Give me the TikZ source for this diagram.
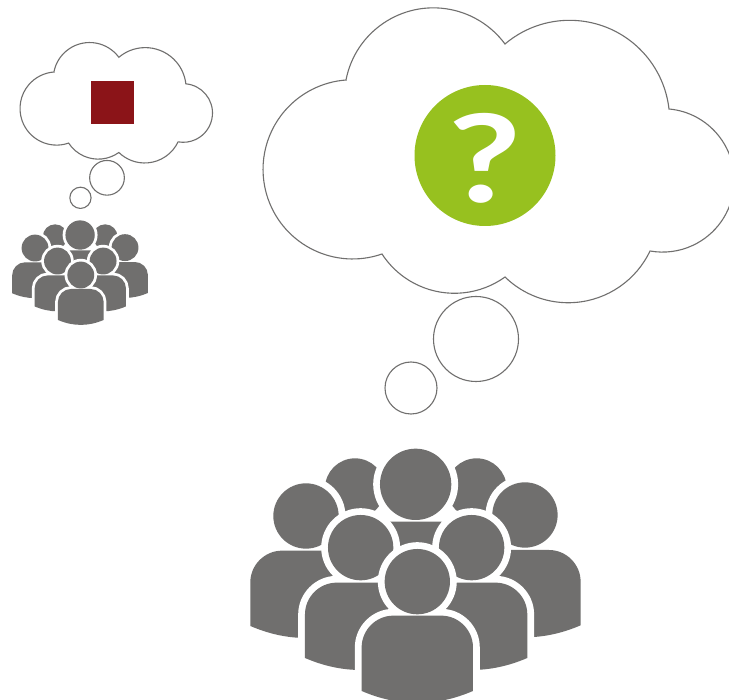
\documentclass[tikz,border=0pt]{standalone}
\usepackage{fontspec}
\newfontfamily\qfont{Lato}
\usetikzlibrary{svg.path}
\definecolor{crowdgray}{HTML}{706F6E}
\definecolor{cloudline}{HTML}{706F6E}
\definecolor{qgreen}{HTML}{97C11F}
\definecolor{sqred}{HTML}{8B1418}
\tikzset{
  cloudstroke/.style={draw=cloudline,fill=white,line width=1.1pt},
  crowdfill/.style={fill=crowdgray},
}
\newcommand{\bodypath}[2]{(#1-167,#2+226) -- (#1-167,#2+95) .. controls (#1-167,#2+43) and (#1-124,#2) .. (#1-72,#2) -- (#1+72,#2) .. controls (#1+124,#2) and (#1+167,#2+43) .. (#1+167,#2+95) -- (#1+167,#2+226) .. controls (#1+56,#2+274) and (#1-56,#2+274) .. (#1-167,#2+226) -- cycle}
\newcommand{\personfig}[5]{%
  \draw[white,line width=#5,line join=round] \bodypath{#1}{#4};
  \draw[white,line width=#5] (#1,#2) circle[radius=#3];
  \fill[crowdfill] \bodypath{#1}{#4};
  \fill[crowdfill] (#1,#2) circle[radius=#3];
}
\newcommand{\headfig}[4]{%
  \draw[white,line width=#4] (#1,#2) circle[radius=#3];
  \fill[crowdfill] (#1,#2) circle[radius=#3];
}
\newcommand{\crowdfig}[1]{%
  \headfig{345}{145}{90}{#1}
  \headfig{710}{145}{90}{#1}
  \personfig{527}{133}{107}{245}{#1}
  \personfig{198}{228}{98}{332}{#1}
  \personfig{855}{225}{98}{330}{#1}
  \personfig{362}{323}{98}{428}{#1}
  \personfig{695}{323}{98}{428}{#1}
  \personfig{532}{425}{98}{527}{#1}
}
\newcommand{\cloudfig}{%
  \draw[cloudstroke] svg "M 346 80 A 89 89 0 0 1 505 44 A 100 100 0 0 1 669 109 A 71.7 71.7 0 1 1 650 251 A 90.5 90.5 0 0 1 505 277 A 86.5 86.5 0 0 1 382 254 A 89.6 89.6 0 1 1 346 80 Z";
  \draw[cloudstroke] (476,339) circle[radius=42.5];
  \draw[cloudstroke] (411,388) circle[radius=26];
}
\begin{document}
\begin{tikzpicture}[x=1pt,y=1pt,yscale=-1]
\useasboundingbox (0,0) rectangle (729,700);
\fill[white] (0,0) rectangle (729,700);
\clip (0,0) rectangle (729,700);
\cloudfig
\fill[qgreen] (485,155.5) circle[radius=70.5];
\node[text=white,inner sep=0pt,font=\qfont\bfseries\fontsize{122}{122}\selectfont] (qmark) at (485,158) {\scalebox{1.3}[1]{?}};
\begin{scope}[shift={(240,440)},scale=0.3333]
  \crowdfig{13.6pt}
\end{scope}
\begin{scope}[shift={(20,43)},scale=0.4085,shift={(-263,-9)}]
  \cloudfig
\end{scope}
\fill[sqred] (91,81) rectangle (134,124);
\begin{scope}[shift={(7.9,216.8)},scale=0.137]
  \crowdfig{5.6pt}
\end{scope}
\end{tikzpicture}
\end{document}
